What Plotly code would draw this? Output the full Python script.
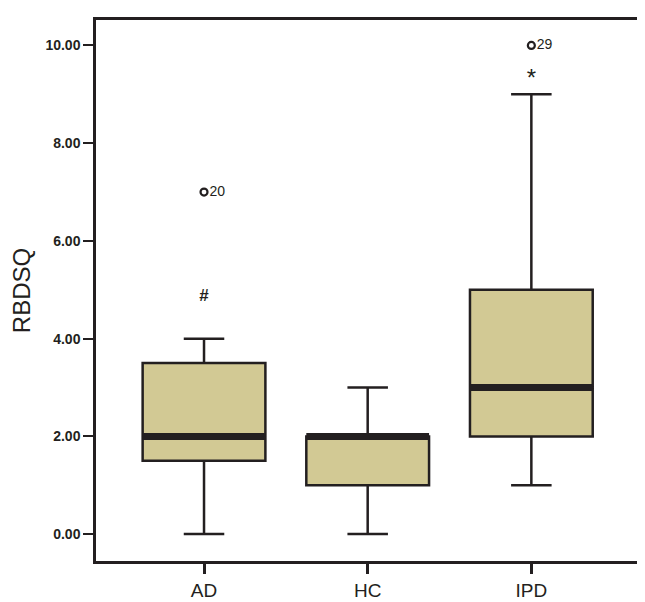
import plotly.graph_objects as go

# Boxplot summary per group
groups = ['AD', 'HC', 'IPD']
q1 = [1.5, 1.0, 2.0]
median = [2.0, 2.0, 3.0]
q3 = [3.5, 2.0, 5.0]
lower = [0.0, 0.0, 1.0]
upper = [4.0, 3.0, 9.0]

# outliers (group index, value, case label)
out_group = [0, 2]
out_value = [7.0, 10.0]
out_label = ['20', '29']

# significance marks above boxes
mark_group = [0, 2]
mark_value = [4.85, 9.3]
mark_text = ['<b>#</b>', '*']
mark_size = [17, 24]

y_ticks = [0, 2, 4, 6, 8, 10]

INK = '#231F20'
FILL = '#D2C994'
FONT = 'Arial, Liberation Sans'
BOX_W = 0.75
pos = list(range(len(groups)))

fig = go.Figure()
fig.add_trace(go.Box(x=pos, q1=q1, median=median, q3=q3,
                     lowerfence=lower, upperfence=upper,
                     width=BOX_W, whiskerwidth=0.33,
                     fillcolor=FILL, line=dict(color=INK, width=2.5),
                     boxpoints=False, hoverinfo='skip', showlegend=False))

# thick median bars (SPSS style)
mx, my = [], []
for i, m in zip(pos, median):
    mx += [i - BOX_W / 2, i + BOX_W / 2, None]
    my += [m, m, None]
fig.add_trace(go.Scatter(x=mx, y=my, mode='lines',
                         line=dict(color=INK, width=7),
                         showlegend=False, hoverinfo='skip'))

# outliers with case numbers
fig.add_trace(go.Scatter(x=out_group, y=out_value, mode='markers+text',
                         marker=dict(symbol='circle-open', size=7,
                                     color=INK, line=dict(width=2.2)),
                         text=out_label, textposition='middle right',
                         textfont=dict(family=FONT, size=14, color=INK),
                         showlegend=False, hoverinfo='skip'))

fig.add_trace(go.Scatter(x=mark_group, y=mark_value, mode='text',
                         text=mark_text,
                         textfont=dict(family=FONT, size=mark_size, color=INK),
                         showlegend=False, hoverinfo='skip'))

fig.update_layout(
    width=645, height=602,
    margin=dict(l=86, r=9, t=10, b=49),
    paper_bgcolor='white', plot_bgcolor='white',
    font=dict(family=FONT, color=INK),
    xaxis=dict(range=[-0.66, 2.67], tickvals=pos, ticktext=groups,
               showgrid=False, zeroline=False,
               showline=True, mirror=True, linewidth=2.5, linecolor=INK,
               ticks='outside', ticklen=10, tickwidth=2.5, tickcolor=INK,
               tickfont=dict(size=19, color=INK)),
    yaxis=dict(range=[-0.55, 10.52], tickvals=y_ticks, tickformat='.2f',
               showgrid=False, zeroline=False,
               showline=True, mirror=True, linewidth=2.5, linecolor=INK,
               ticks='outside', ticklen=10, tickwidth=2, tickcolor=INK,
               tickfont=dict(size=14, color=INK, weight='bold'),
               title=dict(text='RBDSQ', font=dict(size=24, color=INK), standoff=12)),
)

fig.write_html("out.html")
